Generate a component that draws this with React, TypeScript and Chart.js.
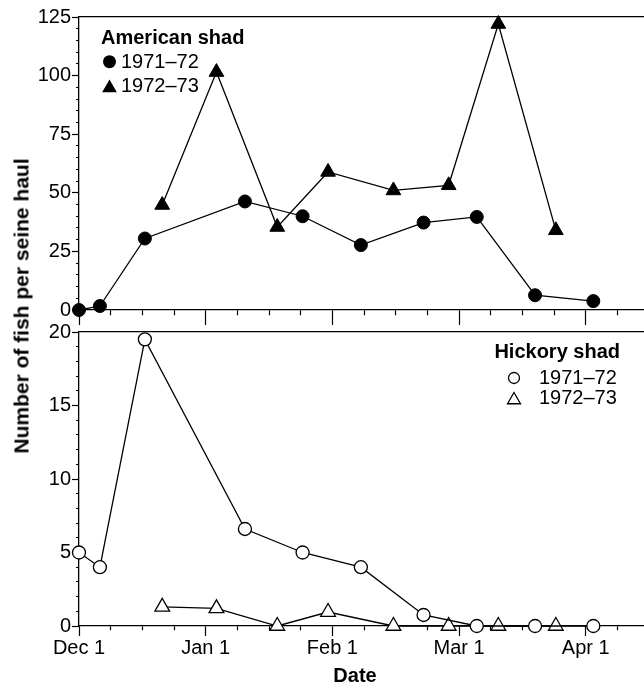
import React, { useEffect, useRef } from 'react';
import { Chart, registerables } from 'chart.js';

Chart.register(...registerables);

const FONT = "'Liberation Sans', Arial, Helvetica, sans-serif";

// x positions are in months after Dec 1 (0 = Dec 1, 1 = Jan 1, ...)
const monthLabels = ['Dec 1', 'Jan 1', 'Feb 1', 'Mar 1', 'Apr 1'];
const dates7172 = [0, 0.165, 0.52, 1.31, 1.765, 2.225, 2.72, 3.14, 3.6, 4.06];
const dates7273 = [0.657, 1.085, 1.565, 1.966, 2.482, 2.918, 3.31, 3.764];

const american7172 = [0, 1.7, 30.5, 46.3, 40, 27.7, 37.3, 39.7, 6.3, 3.8];
const american7273 = [44.8, 101.5, 35.4, 58.9, 51, 53.2, 122, 34];

const hickory7172 = [5, 4, 19.5, 6.6, 5, 4, 0.75, 0, 0, 0];
const hickory7273 = [1.3, 1.2, 0, 0.95, 0, 0, 0, 0];

const americanTicks = { max: 125, step: 5, labelEvery: 25 };
const hickoryTicks = { max: 20, step: 1, labelEvery: 5 };

const X_MAX = 4.46;

function pts(xs: number[], ys: number[]) {
  return xs.map((x, i) => ({ x, y: ys[i] }));
}

function xAxis(showLabels: boolean, majorLen: number, minorLen: number, height: number) {
  return {
    type: 'linear',
    position: 'bottom',
    min: 0,
    max: X_MAX,
    ticks: {
      stepSize: 0.25,
      includeBounds: false,
      autoSkip: false,
      maxRotation: 0,
      padding: 0,
      color: '#000',
      font: { family: FONT, size: 20 },
      callback: (v: number) => (showLabels && Number.isInteger(v) ? monthLabels[v] ?? '' : ''),
    },
    grid: {
      display: true,
      drawOnChartArea: false,
      drawTicks: true,
      tickLength: majorLen,
      tickWidth: 1.2,
      tickColor: '#000',
      tickBorderDash: (c: any) => (Number.isInteger(c.tick?.value) ? [] : [minorLen, 100]),
    },
    border: { display: true, color: '#000', width: 1.3 },
    afterFit: (s: any) => {
      s.height = height;
    },
  };
}

function topBorderAxis() {
  return {
    type: 'linear',
    position: 'top',
    min: 0,
    max: 1,
    ticks: { display: false },
    grid: { display: true, drawOnChartArea: false, drawTicks: false },
    border: { display: true, color: '#000', width: 1.3 },
    afterFit: (s: any) => {
      s.height = 0;
    },
  };
}

function yAxis(cfg: { max: number; step: number; labelEvery: number }) {
  return {
    type: 'linear',
    position: 'left',
    min: 0,
    max: cfg.max,
    ticks: {
      stepSize: cfg.step,
      autoSkip: false,
      padding: 1,
      color: '#000',
      font: { family: FONT, size: 20 },
      callback: (v: number) => (v % cfg.labelEvery === 0 ? String(v) : ''),
    },
    grid: {
      display: true,
      drawOnChartArea: false,
      drawTicks: true,
      tickLength: 7,
      tickWidth: 1.2,
      tickColor: '#000',
      tickBorderDash: (c: any) => (c.tick && c.tick.value % cfg.labelEvery === 0 ? [] : [0, 4, 3, 100]),
    },
    border: { display: true, color: '#000', width: 1.3 },
    afterFit: (s: any) => {
      s.width = 79;
    },
  };
}

function drawTriangle(ctx: CanvasRenderingContext2D, x: number, y: number, r: number) {
  ctx.beginPath();
  ctx.moveTo(x, y - r);
  ctx.lineTo(x + r * 0.866, y + r / 2);
  ctx.lineTo(x - r * 0.866, y + r / 2);
  ctx.closePath();
}

const americanLegend = {
  id: 'americanLegend',
  afterDraw(chart: any) {
    const { ctx, chartArea } = chart;
    const left = chartArea.left + 22;
    ctx.save();
    ctx.fillStyle = '#000';
    ctx.strokeStyle = '#000';
    ctx.textBaseline = 'middle';
    ctx.textAlign = 'left';
    ctx.font = `bold 20px ${FONT}`;
    ctx.fillText('American shad', left, chartArea.top + 21.5);
    ctx.font = `20px ${FONT}`;
    ctx.beginPath();
    ctx.arc(left + 8.5, chartArea.top + 44.7, 6.5, 0, Math.PI * 2);
    ctx.fill();
    ctx.fillText('1971–72', left + 20, chartArea.top + 45);
    drawTriangle(ctx, left + 8.5, chartArea.top + 71, 8.5);
    ctx.fill();
    ctx.fillText('1972–73', left + 20, chartArea.top + 69);
    ctx.restore();
  },
};

const hickoryLegend = {
  id: 'hickoryLegend',
  afterDraw(chart: any) {
    const { ctx, chartArea } = chart;
    const right = 620;
    ctx.save();
    ctx.fillStyle = '#000';
    ctx.strokeStyle = '#000';
    ctx.lineWidth = 1.3;
    ctx.textBaseline = 'middle';
    ctx.font = `bold 20px ${FONT}`;
    ctx.textAlign = 'right';
    ctx.fillText('Hickory shad', right, chartArea.top + 20);
    ctx.font = `20px ${FONT}`;
    ctx.textAlign = 'left';
    ctx.beginPath();
    ctx.arc(514, chartArea.top + 46, 5.5, 0, Math.PI * 2);
    ctx.stroke();
    ctx.fillText('1971–72', 539, chartArea.top + 46);
    drawTriangle(ctx, 514, chartArea.top + 68, 7.5);
    ctx.stroke();
    ctx.fillText('1972–73', 539, chartArea.top + 66);
    ctx.restore();
  },
};

export default function App() {
  const topRef = useRef<HTMLCanvasElement>(null);
  const botRef = useRef<HTMLCanvasElement>(null);

  useEffect(() => {
    const common = {
      responsive: false,
      animation: false,
      events: [],
      plugins: { legend: { display: false }, tooltip: { enabled: false } },
    };

    const top = new Chart(topRef.current as HTMLCanvasElement, {
      type: 'line',
      data: {
        datasets: [
          {
            label: '1971–72',
            data: pts(dates7172, american7172),
            borderColor: '#000',
            backgroundColor: '#000',
            borderWidth: 1.3,
            pointStyle: 'circle',
            pointRadius: 6.5,
            pointBorderWidth: 1,
            pointBackgroundColor: '#000',
            pointBorderColor: '#000',
            clip: false,
          },
          {
            label: '1972–73',
            data: pts(dates7273, american7273),
            borderColor: '#000',
            backgroundColor: '#000',
            borderWidth: 1.3,
            pointStyle: 'triangle',
            pointRadius: 8.5,
            pointBorderWidth: 1,
            pointBackgroundColor: '#000',
            pointBorderColor: '#000',
            clip: false,
          },
        ],
      },
      options: {
        ...common,
        layout: { autoPadding: false, padding: { top: 17, left: 0, right: 0, bottom: 0 } },
        scales: {
          x: xAxis(false, 15, 5, 20),
          xTop: topBorderAxis(),
          y: yAxis(americanTicks),
        },
      } as any,
      plugins: [americanLegend],
    } as any);

    const bottom = new Chart(botRef.current as HTMLCanvasElement, {
      type: 'line',
      data: {
        datasets: [
          {
            label: '1971–72',
            data: pts(dates7172, hickory7172),
            borderColor: '#000',
            backgroundColor: '#fff',
            borderWidth: 1.3,
            pointStyle: 'circle',
            pointRadius: 6.5,
            pointBorderWidth: 1.3,
            pointBackgroundColor: '#fff',
            pointBorderColor: '#000',
            clip: false,
          },
          {
            label: '1972–73',
            data: pts(dates7273, hickory7273),
            borderColor: '#000',
            backgroundColor: '#fff',
            borderWidth: 1.3,
            pointStyle: 'triangle',
            pointRadius: 8.5,
            pointBorderWidth: 1.3,
            pointBackgroundColor: '#fff',
            pointBorderColor: '#000',
            clip: false,
          },
        ],
      },
      options: {
        ...common,
        layout: { autoPadding: false, padding: { top: 16, left: 0, right: 0, bottom: 0 } },
        scales: {
          x: xAxis(true, 10, 4, 58),
          xTop: topBorderAxis(),
          y: yAxis(hickoryTicks),
        },
      } as any,
      plugins: [hickoryLegend],
    } as any);

    return () => {
      top.destroy();
      bottom.destroy();
    };
  }, []);

  return (
    <div style={{ position: 'absolute', left: 0, top: 0, width: 644, height: 684, background: '#fff', overflow: 'hidden' }}>
      <canvas ref={topRef} width={644} height={330} style={{ position: 'absolute', left: 0, top: 0 }} />
      <canvas ref={botRef} width={644} height={368} style={{ position: 'absolute', left: 0, top: 316 }} />
      <div
        style={{
          position: 'absolute',
          left: 21,
          top: 306,
          transform: 'translate(-50%, -50%) rotate(-90deg)',
          whiteSpace: 'nowrap',
          fontFamily: FONT,
          fontWeight: 'bold',
          fontSize: 21,
          color: '#000',
          lineHeight: 1,
        }}
      >
        Number of fish per seine haul
      </div>
      <div
        style={{
          position: 'absolute',
          left: 355,
          top: 675,
          transform: 'translate(-50%, -50%)',
          whiteSpace: 'nowrap',
          fontFamily: FONT,
          fontWeight: 'bold',
          fontSize: 20,
          color: '#000',
          lineHeight: 1,
        }}
      >
        Date
      </div>
    </div>
  );
}
